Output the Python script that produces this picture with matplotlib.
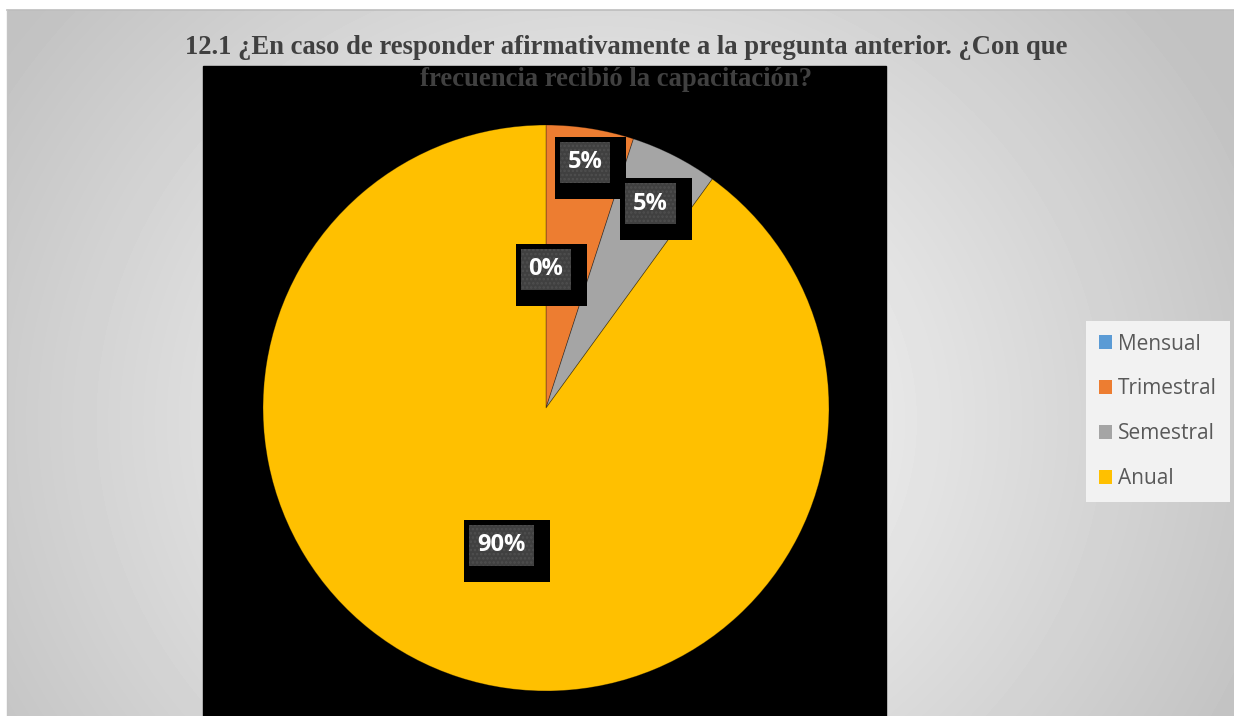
import numpy as np
import matplotlib.pyplot as plt
from matplotlib.patches import Rectangle, Patch
from matplotlib.lines import Line2D
from matplotlib.transforms import IdentityTransform

# ── Survey answers (number of respondents per option) ───────────────────────
categories = ["Mensual", "Trimestral", "Semestral", "Anual"]
counts = [0, 1, 1, 18]
colors = ["#5B9BD5", "#ED7D31", "#A5A5A5", "#FFC000"]
title_1 = "12.1 ¿En caso de responder afirmativamente a la pregunta anterior. ¿Con que"
title_2 = "frecuencia recibió la capacitación?"

# radial position of each data label inside its wedge
label_radius = [0.49, 0.88, 0.81, 0.51]

W, H = 1234, 716
fig = plt.figure(figsize=(W / 100, H / 100), dpi=100, facecolor="white")


def fx(px):
    return px / W


def fy(py):
    return 1 - py / H


# ── Grey radial-gradient chart area ─────────────────────────────────────────
bg = fig.add_axes([fx(7), 0, 1 - fx(7), fy(10)])
bg.set_zorder(-2)
yy, xx = np.mgrid[10:H, 7:W]
dist = np.hypot(xx - 600, (yy - 420) * 1.1)
shade = 1 - 0.24 * np.clip(dist / 720, 0, 1)
bg.imshow(shade, cmap="gray", vmin=0, vmax=1, aspect="auto", interpolation="bilinear")
bg.axis("off")
fig.add_artist(Line2D([fx(7), 1], [fy(10), fy(10)], color="#bdbdbd", lw=1.2,
                      transform=fig.transFigure))
fig.add_artist(Line2D([fx(7), fx(7)], [0, fy(10)], color="#c4c4c4", lw=1,
                      transform=fig.transFigure))

# black plot area
plot_bg = Rectangle((fx(203), 0), fx(886) - fx(203), fy(66),
                    transform=fig.transFigure, color="black", zorder=-1)
fig.add_artist(plot_bg)

# ── Pie ─────────────────────────────────────────────────────────────────────
cx, cy, r = 546, 408, 283
ax = fig.add_axes([fx(cx - r), fy(cy + r), 2 * r / W, 2 * r / H])
wedges, _ = ax.pie(counts, colors=colors, startangle=90, counterclock=False,
                   radius=1, wedgeprops=dict(edgecolor=(0, 0, 0, 0.35), linewidth=0.6))
ax.set_xlim(-1, 1)
ax.set_ylim(-1, 1)
ax.axis("off")

total = sum(counts)
texts = []
for w, rad, n in zip(wedges, label_radius, counts):
    mid = np.deg2rad((w.theta1 + w.theta2) / 2)
    t = ax.text(rad * np.cos(mid), rad * np.sin(mid), f"{100 * n / total:.0f}%",
                ha="center", va="center", color="white", fontsize=17,
                fontweight="bold", family="Open Sans", zorder=6)
    texts.append(t)

# label boxes: black shadow box with a dotted dark-grey box on top
plt.rcParams["hatch.linewidth"] = 1.2
fig.canvas.draw()
for t in texts:
    bb = t.get_window_extent()
    tx, ty = (bb.x0 + bb.x1) / 2, (bb.y0 + bb.y1) / 2
    iw, ih = bb.width + 16, 41
    x0, y0 = tx - iw / 2, ty - ih / 2
    ax.add_patch(Rectangle((x0 - 5, y0 - 16), iw + 21, ih + 21, facecolor="black",
                           lw=0, transform=IdentityTransform(), clip_on=False, zorder=4))
    ax.add_patch(Rectangle((x0, y0), iw, ih, facecolor="#404040", edgecolor="#4f4f4f",
                           hatch="....", lw=0, transform=IdentityTransform(),
                           clip_on=False, zorder=5))

# ── Title ───────────────────────────────────────────────────────────────────
fig.text(fx(626), fy(47), title_1, ha="center", va="center", family="Liberation Serif",
         fontweight="bold", fontsize=19.2, color="#404040", zorder=3)
fig.text(fx(616), fy(80), title_2, ha="center", va="center", family="Liberation Serif",
         fontweight="bold", fontsize=19.2, color="#404040", zorder=3)

# ── Legend ──────────────────────────────────────────────────────────────────
handles = [Patch(facecolor=c) for c in colors]
fig.legend(handles, categories, loc="upper left", bbox_to_anchor=(fx(1086), fy(321)),
           borderaxespad=0, frameon=True, facecolor="#f2f2f2", edgecolor="none",
           fancybox=False, framealpha=1, prop=dict(family="Open Sans", size=15),
           labelcolor="#595959", handlelength=0.65, handleheight=0.65,
           handletextpad=0.3, labelspacing=1.15, borderpad=0.6)

fig.savefig("out.png", dpi=100)
